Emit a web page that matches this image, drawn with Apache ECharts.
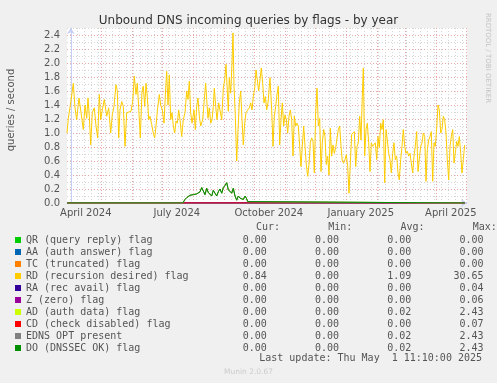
<!DOCTYPE html>
<html><head><meta charset="utf-8">
<script src="https://cdn.jsdelivr.net/npm/echarts@6/dist/echarts.min.js"></script>
<style>html,body{margin:0;padding:0;background:#f0f0f0}#c{width:497px;height:383px}</style>
</head><body><div id="c"></div>
<script>
// x values are days since 2024-04-01
const X_MIN = -3.8, X_MAX = 396.2;
const monthStarts = [0,30,61,91,122,153,183,214,244,275,306,334,365,395];
const xLabelDays = [15,106,198,290,380];
const xLabelText = ['April 2024','July 2024','October 2024','January 2025','April 2025'];
const yMajorTicks = [0,0.2,0.4,0.6,0.8,1.0,1.2,1.4,1.6,1.8,2.0,2.2,2.4];
const yMinorTicks = [0.1,0.3,0.5,0.7,0.9,1.1,1.3,1.5,1.7,1.9,2.1,2.3,2.5];

const seriesNames = ['QR (query reply) flag','AA (auth answer) flag','TC (truncated) flag','RD (recursion desired) flag','RA (rec avail) flag','Z (zero) flag','AD (auth data) flag','CD (check disabled) flag','EDNS OPT present','DO (DNSSEC OK) flag'];
const seriesColors = ['#00CC00','#0066B3','#FF8000','#FFCC00','#330099','#990099','#CCFF00','#FF0000','#808080','#008F00'];
const curVals = [0,0,0,0.84,0,0,0,0,0,0];
const minVals = [0,0,0,0,0,0,0,0,0,0];
const avgVals = [0,0,0,1.09,0,0,0.02,0,0.02,0.02];
const maxVals = [0,0,0,30.65,0.04,0.06,2.43,0.07,2.43,2.43];

const zeroDays = [-3.8, 394.2];
const zeroVals = [0, 0];

const rdDays = [-3.8,-2.5,-0.1,2.5,4.2,5.9,8.2,9.9,12.5,14.2,15.9,17.2,18.5,19.9,21.5,23.5,25.2,26.9,28.5,29.9,31.5,33.5,35.9,37.9,39.9,41.5,43.2,45.2,46.5,47.9,49.2,50.9,52.5,54.2,55.9,57.5,60.2,61.9,63.5,65.2,66.5,67.9,69.5,71.2,72.5,73.9,75.2,76.5,77.9,79.2,80.9,82.5,83.9,85.2,86.5,88.5,89.9,91.5,93.2,94.9,95.9,97.2,98.5,99.9,101.2,102.5,103.9,105.2,106.5,107.9,109.2,110.9,112.5,114.2,115.9,117.2,118.5,119.9,121.2,123.2,124.5,125.9,127.2,128.5,129.9,131.9,133.2,134.9,135.9,137.2,138.5,139.9,141.2,142.5,143.5,144.9,146.2,147.9,149.2,150.9,152.5,153.9,155.2,156.5,157.5,158.5,159.9,161.2,162.2,163.2,164.5,165.9,167.2,168.5,169.9,171.2,172.5,173.9,175.2,176.9,178.5,179.9,181.2,182.5,183.9,185.2,186.5,187.9,189.2,190.5,191.9,193.2,194.5,195.9,197.2,
199.2,200.9,202.2,203.5,204.9,206.2,207.5,208.9,210.2,211.5,212.9,214.2,215.5,216.9,218.2,219.5,220.9,222.2,223.5,224.9,226.2,227.5,228.9,230.2,231.5,232.9,234.2,235.5,236.9,238.2,239.5,240.9,242.2,243.5,244.9,246.2,247.5,248.9,250.2,251.5,252.9,254.2,255.5,256.9,258.2,259.5,260.9,262.2,263.5,264.9,266.2,267.5,268.9,270.2,271.5,272.9,274.2,275.5,276.9,278.2,279.5,280.9,282.2,283.5,284.9,286.2,287.5,288.9,290.2,291.5,292.5,293.9,295.2,296.5,297.9,299.2,300.5,301.9,303.2,304.5,305.9,307.2,308.5,309.9,311.2,312.5,313.9,315.2,316.5,317.9,319.2,320.5,321.9,323.2,324.5,325.9,327.2,328.5,329.9,331.2,332.5,333.9,335.2,336.5,337.9,339.2,340.5,341.9,343.2,344.5,345.9,347.2,348.5,349.9,351.2,352.5,353.9,355.2,356.5,357.9,359.2,360.5,361.9,363.2,364.5,365.9,367.2,368.5,369.9,371.2,372.5,373.9,375.2,376.5,377.9,379.2,380.5,381.9,383.2,384.5,385.9,387.2,388.5,389.9,391.2,392.5,393.9];
const rdVals = [1.0,1.21,1.43,1.71,1.36,1.19,1.5,1.33,1.05,1.4,1.21,1.5,1.24,0.83,1.29,1.36,1.1,0.93,1.55,1.19,1.33,1.48,1.24,1.36,1.0,1.26,1.38,1.69,1.6,0.93,1.33,1.45,1.38,0.81,1.29,1.31,1.31,1.45,1.81,1.55,1.71,1.36,0.93,1.6,1.67,1.38,1.71,1.52,1.19,1.24,1.12,1.0,0.93,1.1,1.31,1.55,1.4,1.33,1.14,1.64,1.88,1.4,1.83,1.19,1.29,1.1,1.0,1.17,1.14,1.33,1.19,0.95,1.19,1.29,1.6,1.48,1.74,1.29,1.14,1.33,1.05,1.38,1.5,1.24,1.1,1.19,1.43,1.71,1.48,1.21,1.36,1.14,1.19,1.38,1.64,1.38,1.19,1.43,1.45,1.19,1.64,1.76,1.98,1.6,1.31,1.79,1.57,2.0,2.43,1.67,1.24,0.6,1.05,1.43,1.6,1.19,0.83,1.14,1.29,1.33,1.36,1.43,1.33,1.52,1.64,1.9,1.76,1.6,1.76,1.93,1.71,1.43,1.52,1.33,1.43,
1.79,1.33,0.81,1.24,1.38,1.55,1.67,0.83,1.19,1.43,1.1,1.26,1.19,1.0,1.24,1.33,1.19,0.67,1.24,1.1,1.14,1.1,0.81,0.52,0.81,1.1,0.81,0.55,0.38,0.55,0.86,0.93,0.88,0.43,1.29,1.64,1.1,1.21,0.45,0.86,1.05,0.95,0.55,0.67,0.4,1.07,0.67,0.83,0.71,0.79,0.81,1.05,1.1,0.81,0.6,0.57,0.62,0.69,0.52,0.14,0.57,0.98,1.0,1.02,0.52,0.81,0.86,1.24,0.9,1.52,1.93,0.67,1.05,1.14,0.86,0.45,0.86,0.81,0.83,0.86,0.62,0.95,0.79,1.14,1.05,1.19,0.29,1.05,0.9,0.71,0.62,0.43,0.71,0.86,0.62,0.67,0.43,0.33,0.62,0.81,1.05,0.81,0.71,0.74,0.67,0.71,0.57,0.43,0.67,0.81,1.02,0.45,0.62,0.81,0.86,1.0,0.95,0.31,0.76,0.9,0.95,1.02,0.31,0.86,0.81,1.07,1.4,1.33,1.0,1.05,1.24,1.19,1.0,0.62,0.33,0.81,0.95,1.05,0.57,0.71,0.88,0.81,0.95,0.71,0.43,0.62,0.83];

const dnssecDays = [-3.8,111.9,114.2,116.2,117.7,119.2,121.2,122.7,124.2,125.9,127.5,129.2,130.9,132.5,134.2,135.9,137.5,139.2,140.9,142.5,144.2,145.9,147.5,149.2,150.9,152.5,154.2,155.9,157.5,159.2,160.9,162.5,164.2,165.9,167.5,169.2,170.9,172.5,174.2,175.9,176.9,177.9,394.2];
const dnssecVals = [0,0,0.05,0.08,0.07,0.11,0.09,0.12,0.1,0.13,0.11,0.16,0.22,0.2,0.12,0.21,0.15,0.17,0.1,0.18,0.14,0.1,0.16,0.2,0.14,0.22,0.25,0.29,0.19,0.2,0.14,0.21,0.1,0.04,0.1,0.07,0.09,0.05,0.1,0.06,0.02,0,0];

function pairs(xs, ys){ return xs.map((x,i)=>[x, ys[i]]); }
const seriesData = [
  pairs(zeroDays, zeroVals), pairs(zeroDays, zeroVals), pairs(zeroDays, zeroVals),
  pairs(rdDays, rdVals),
  pairs(zeroDays, zeroVals), pairs(zeroDays, zeroVals),
  pairs(dnssecDays, dnssecVals),
  pairs(zeroDays, zeroVals),
  pairs(dnssecDays, dnssecVals), pairs(dnssecDays, dnssecVals)
];

const weekStarts = [];
for (let d = -1; d <= X_MAX; d += 7) weekStarts.push(d); // Sundays

const FONT = 'DejaVu Sans';
const MONO = 'DejaVu Sans Mono';
const TXT = '#555';
const axisBlue = '#c8cff5';
const minorGrid = { show: true, lineStyle: { color: '#d6d6d6', type: [1, 2], width: 1 } };
const majorGrid = { show: true, lineStyle: { color: '#eaa7a7', type: [1, 2], width: 1 } };

function fmt(v){ return v.toFixed(2); }

const chart = echarts.init(document.getElementById('c'), null, { renderer: 'canvas' });
chart.setOption({
  animation: false,
  backgroundColor: '#f0f0f0',
  title: { text: 'Unbound DNS incoming queries by flags - by year', left: 'center', top: 10,
    textStyle: { fontFamily: FONT, fontSize: 12, fontWeight: 'normal', color: '#333' } },
  grid: { left: 67, top: 28, width: 400, height: 175, show: true, backgroundColor: '#ffffff', borderWidth: 0, containLabel: false },
  xAxis: [
    { type: 'value', min: X_MIN, max: X_MAX, position: 'bottom',
      axisLine: { show: false }, axisTick: { show: false, customValues: weekStarts },
      axisLabel: { show: false }, splitLine: minorGrid },
    { type: 'value', min: X_MIN, max: X_MAX, position: 'bottom',
      axisLine: { show: true, symbol: ['none', 'arrow'], symbolSize: [6, 6], lineStyle: { color: axisBlue } },
      axisTick: { show: false, customValues: monthStarts },
      axisLabel: { show: true, customValues: xLabelDays, margin: 5, fontFamily: FONT, fontSize: 10, color: TXT,
        formatter: v => { const i = xLabelDays.indexOf(v); return i >= 0 ? xLabelText[i] : ''; } },
      splitLine: majorGrid }
  ],
  yAxis: [
    { type: 'value', min: 0, max: 2.5, position: 'left',
      axisLine: { show: false }, axisTick: { show: false, customValues: yMinorTicks },
      axisLabel: { show: false }, splitLine: minorGrid },
    { type: 'value', min: 0, max: 2.5, position: 'left',
      axisLine: { show: true, symbol: ['none', 'arrow'], symbolSize: [6, 6], lineStyle: { color: axisBlue } },
      axisTick: { show: false, customValues: yMajorTicks },
      axisLabel: { show: true, customValues: yMajorTicks, margin: 7, fontFamily: FONT, fontSize: 10, color: TXT,
        formatter: v => v.toFixed(1) },
      splitLine: majorGrid }
  ],
  legend: {
    orient: 'vertical', left: 15, top: 234, itemWidth: 6, itemHeight: 6, itemGap: 0,
    icon: 'rect', selectedMode: false, padding: 0,
    textStyle: { fontFamily: MONO, fontSize: 10, color: TXT, lineHeight: 12 },
    data: seriesNames,
    formatter: name => {
      const i = seriesNames.indexOf(name);
      return name.padEnd(36) + fmt(curVals[i]).padStart(4) + fmt(minVals[i]).padStart(12) +
        fmt(avgVals[i]).padStart(12) + fmt(maxVals[i]).padStart(12);
    }
  },
  graphic: [
    { type: 'text', left: 256, top: 222, style: { text: 'Cur:        Min:        Avg:        Max:', font: '10px "DejaVu Sans Mono"', fill: TXT } },
    { type: 'text', right: 15, top: 353, style: { text: 'Last update: Thu May  1 11:10:00 2025', font: '10px "DejaVu Sans Mono"', fill: TXT } },
    { type: 'text', x: 248.5, y: 372, style: { text: 'Munin 2.0.67', font: '7.5px "DejaVu Sans"', fill: '#cccccc', align: 'center', verticalAlign: 'middle' } },
    { type: 'text', x: 488, y: 58, rotation: -Math.PI / 2, style: { text: 'RRDTOOL / TOBI OETIKER', font: '7px "DejaVu Sans"', fill: '#c4c4c4', align: 'center', verticalAlign: 'middle' } },
    { type: 'text', x: 11, y: 110, rotation: Math.PI / 2, style: { text: 'queries / second', font: '10px "DejaVu Sans"', fill: TXT, align: 'center', verticalAlign: 'middle' } }
  ],
  series: seriesNames.map((n, i) => ({
    name: n, type: 'line', xAxisIndex: 0, yAxisIndex: 0, data: seriesData[i],
    color: seriesColors[i], showSymbol: false, symbol: 'none',
    lineStyle: { width: 1, color: seriesColors[i] }, emphasis: { disabled: true }, silent: true
  }))
});
</script></body></html>
